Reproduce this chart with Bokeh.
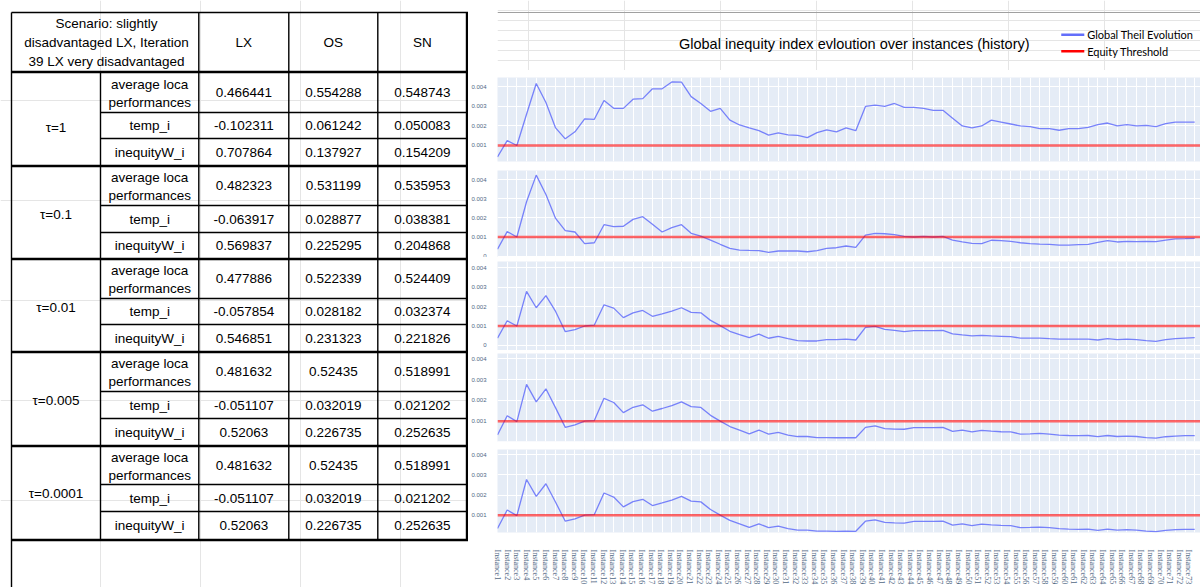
import math
from bokeh.plotting import figure
from bokeh.layouts import row, column
from bokeh.models import (Range1d, FixedTicker, Span, Grid, CustomJSTickFormatter)
from bokeh.core.properties import value
from bokeh.embed import file_html
from bokeh.resources import INLINE

# ---------------- data ----------------
header_lines = ["Scenario: slightly", "disadvantaged LX, Iteration", "39 LX very disadvantaged"]
columns = ["LX", "OS", "SN"]
tau_labels = ["τ=1", "τ=0.1", "τ=0.01", "τ=0.005", "τ=0.0001"]
row_names = ["temp_i", "inequityW_i"]
avg_row_name = ["average loca", "performances"]

avg_local_perf = [
    [0.466441, 0.554288, 0.548743],
    [0.482323, 0.531199, 0.535953],
    [0.477886, 0.522339, 0.524409],
    [0.481632, 0.52435, 0.518991],
    [0.481632, 0.52435, 0.518991],
]
temp_i = [
    [-0.102311, 0.061242, 0.050083],
    [-0.063917, 0.028877, 0.038381],
    [-0.057854, 0.028182, 0.032374],
    [-0.051107, 0.032019, 0.021202],
    [-0.051107, 0.032019, 0.021202],
]
inequityW_i = [
    [0.707864, 0.137927, 0.154209],
    [0.569837, 0.225295, 0.204868],
    [0.546851, 0.231323, 0.221826],
    [0.52063, 0.226735, 0.252635],
    [0.52063, 0.226735, 0.252635],
]

instances = ["Instance%d" % i for i in range(1, 74)]
equity_threshold = 0.001
y_ticks = [0, 0.001, 0.002, 0.003, 0.004]

theil_tau_1 = [0.00041, 0.00125, 0.00100, 0.00260, 0.00417, 0.00320, 0.00190, 0.00134, 0.00170, 0.00236,
               0.00234, 0.00330, 0.00290, 0.00290, 0.00337, 0.00340, 0.00390, 0.00390, 0.00425, 0.00424,
               0.00350, 0.00315, 0.00275, 0.00290, 0.00230, 0.00205, 0.00190, 0.00176, 0.00153, 0.00164,
               0.00154, 0.00152, 0.00140, 0.00166, 0.00180, 0.00170, 0.00190, 0.00176, 0.00300, 0.00307,
               0.00300, 0.00315, 0.00295, 0.00295, 0.00290, 0.00280, 0.00280, 0.00240, 0.00200, 0.00190,
               0.00200, 0.00230, 0.00220, 0.00210, 0.00200, 0.00197, 0.00186, 0.00186, 0.00178, 0.00186,
               0.00186, 0.00193, 0.00207, 0.00215, 0.00200, 0.00207, 0.00200, 0.00203, 0.00197, 0.00212,
               0.00220, 0.00220, 0.00220]
theil_tau_0_1 = [0.00036, 0.00128, 0.00100, 0.00284, 0.00423, 0.00322, 0.00197, 0.00133, 0.00126, 0.00065,
                 0.00070, 0.00164, 0.00154, 0.00156, 0.00192, 0.00206, 0.00166, 0.00126, 0.00149, 0.00164,
                 0.00119, 0.00105, 0.00084, 0.00062, 0.00041, 0.00032, 0.00030, 0.00029, 0.00020, 0.00027,
                 0.00027, 0.00027, 0.00023, 0.00029, 0.00041, 0.00044, 0.00053, 0.00046, 0.00110, 0.00119,
                 0.00117, 0.00112, 0.00103, 0.00100, 0.00103, 0.00100, 0.00103, 0.00084, 0.00074, 0.00067,
                 0.00065, 0.00083, 0.00081, 0.00077, 0.00070, 0.00065, 0.00063, 0.00062, 0.00058, 0.00058,
                 0.00060, 0.00062, 0.00072, 0.00081, 0.00074, 0.00077, 0.00076, 0.00077, 0.00076, 0.00084,
                 0.00090, 0.00091, 0.00093]
theil_tau_0_01 = [0.00038, 0.00127, 0.00100, 0.00278, 0.00194, 0.00256, 0.00175, 0.00071, 0.00081, 0.00100,
                  0.00105, 0.00209, 0.00192, 0.00143, 0.00168, 0.00180, 0.00150, 0.00162, 0.00177, 0.00194,
                  0.00170, 0.00168, 0.00129, 0.00102, 0.00073, 0.00056, 0.00040, 0.00058, 0.00037, 0.00047,
                  0.00035, 0.00025, 0.00023, 0.00023, 0.00030, 0.00030, 0.00033, 0.00028, 0.00093, 0.00098,
                  0.00083, 0.00078, 0.00071, 0.00076, 0.00076, 0.00076, 0.00078, 0.00060, 0.00054, 0.00049,
                  0.00052, 0.00049, 0.00047, 0.00045, 0.00038, 0.00038, 0.00038, 0.00035, 0.00033, 0.00033,
                  0.00033, 0.00033, 0.00028, 0.00035, 0.00030, 0.00033, 0.00030, 0.00025, 0.00021, 0.00030,
                  0.00035, 0.00038, 0.00040]
theil_tau_0_005 = [0.00034, 0.00126, 0.00098, 0.00277, 0.00193, 0.00256, 0.00164, 0.00070, 0.00082, 0.00100,
                   0.00103, 0.00210, 0.00190, 0.00141, 0.00167, 0.00179, 0.00148, 0.00161, 0.00175, 0.00193,
                   0.00170, 0.00166, 0.00128, 0.00100, 0.00074, 0.00057, 0.00039, 0.00057, 0.00038, 0.00046,
                   0.00033, 0.00026, 0.00026, 0.00021, 0.00021, 0.00020, 0.00021, 0.00020, 0.00070, 0.00077,
                   0.00064, 0.00062, 0.00061, 0.00069, 0.00069, 0.00069, 0.00070, 0.00051, 0.00057, 0.00048,
                   0.00056, 0.00052, 0.00049, 0.00048, 0.00038, 0.00039, 0.00041, 0.00038, 0.00033, 0.00031,
                   0.00030, 0.00031, 0.00025, 0.00031, 0.00026, 0.00028, 0.00026, 0.00021, 0.00018, 0.00025,
                   0.00028, 0.00030, 0.00030]
theil_tau_0_0001 = [0.00034, 0.00126, 0.00098, 0.00277, 0.00193, 0.00256, 0.00164, 0.00070, 0.00082, 0.00100,
                    0.00103, 0.00210, 0.00190, 0.00141, 0.00167, 0.00179, 0.00148, 0.00161, 0.00175, 0.00193,
                    0.00170, 0.00166, 0.00128, 0.00100, 0.00074, 0.00057, 0.00039, 0.00057, 0.00038, 0.00046,
                    0.00033, 0.00026, 0.00026, 0.00021, 0.00021, 0.00020, 0.00021, 0.00020, 0.00070, 0.00077,
                    0.00064, 0.00062, 0.00061, 0.00069, 0.00069, 0.00069, 0.00070, 0.00051, 0.00057, 0.00048,
                    0.00056, 0.00052, 0.00049, 0.00048, 0.00038, 0.00039, 0.00041, 0.00038, 0.00033, 0.00031,
                    0.00030, 0.00031, 0.00025, 0.00031, 0.00026, 0.00028, 0.00026, 0.00021, 0.00018, 0.00025,
                    0.00028, 0.00030, 0.00030]

theil_series = [theil_tau_1, theil_tau_0_1, theil_tau_0_01, theil_tau_0_005, theil_tau_0_0001]
chart_title = "Global inequity index evloution over instances (history)"
legend_labels = ["Global Theil Evolution", "Equity Threshold"]

# ---------------- layout constants (page pixels) ----------------
FONT = "Liberation Sans"
TXT = "13.5px"
X_EDGES = [11, 100, 198.3, 288.3, 377.3, 466.5]
TOP_Y = 12
BLOCK_EDGES = [71.5, 165.5, 258.5, 351.5, 445.5, 539.5]
INNER = [[112, 138], [205, 232], [298, 324], [391, 418], [484, 511]]
TAU_Y = [127, 214, 307, 400, 493]
LEFT_W = 468
RIGHT_W = 732
PAGE_H = 587
LINE_BLUE = "#636EFA"

# ---------------- left table ----------------
tbl = figure(width=LEFT_W, height=PAGE_H, x_range=Range1d(0, LEFT_W), y_range=Range1d(PAGE_H, 0),
             x_axis_location=None, y_axis_location=None, toolbar_location=None,
             min_border=0, outline_line_color=None, output_backend="svg")

sx0, sy0, sx1, sy1 = [], [], [], []
sx0 += [X_EDGES[0]]; sy0 += [TOP_Y]; sx1 += [LEFT_W]; sy1 += [TOP_Y]
sx0 += [X_EDGES[0]]; sy0 += [TOP_Y]; sx1 += [X_EDGES[0]]; sy1 += [PAGE_H]
sx0 += [X_EDGES[1]]; sy0 += [BLOCK_EDGES[0]]; sx1 += [X_EDGES[1]]; sy1 += [BLOCK_EDGES[-1]]
for xe in X_EDGES[2:5]:
    sx0 += [xe]; sy0 += [TOP_Y]; sx1 += [xe]; sy1 += [BLOCK_EDGES[-1]]
for pair in INNER:
    for yy in pair:
        sx0 += [X_EDGES[1]]; sy0 += [yy]; sx1 += [LEFT_W]; sy1 += [yy]
tbl.segment(sx0, sy0, sx1, sy1, line_color="black", line_width=1.4)

tx0, ty0, tx1, ty1 = [], [], [], []
for yy in BLOCK_EDGES:
    tx0 += [X_EDGES[0]]; ty0 += [yy]; tx1 += [LEFT_W]; ty1 += [yy]
tx0 += [X_EDGES[5]]; ty0 += [TOP_Y]; tx1 += [X_EDGES[5]]; ty1 += [BLOCK_EDGES[-1]]
tbl.segment(tx0, ty0, tx1, ty1, line_color="black", line_width=2.4)

tx, ty, tt = [], [], []
for k, line in enumerate(header_lines):
    tx.append(106); ty.append(23 + 19 * k); tt.append(line)
col_centers = [(X_EDGES[i] + X_EDGES[i + 1]) / 2 for i in range(2, 5)]
for c, name in zip(col_centers, columns):
    tx.append(c); ty.append(42); tt.append(name)
name_x = (X_EDGES[1] + X_EDGES[2]) / 2
tau_x = (X_EDGES[0] + X_EDGES[1]) / 2
for b in range(5):
    top, bot = BLOCK_EDGES[b], BLOCK_EDGES[b + 1]
    l1, l2 = INNER[b]
    cy = [(top + l1) / 2, (l1 + l2) / 2, (l2 + bot) / 2]
    tx.append(tau_x); ty.append(TAU_Y[b]); tt.append(tau_labels[b])
    tx.append(name_x); ty.append(cy[0] - 8); tt.append(avg_row_name[0])
    tx.append(name_x); ty.append(cy[0] + 10); tt.append(avg_row_name[1])
    tx.append(name_x); ty.append(cy[1]); tt.append(row_names[0])
    tx.append(name_x); ty.append(cy[2]); tt.append(row_names[1])
    for j, c in enumerate(col_centers):
        tx.append(c); ty.append(cy[0]); tt.append(str(avg_local_perf[b][j]))
        tx.append(c); ty.append(cy[1]); tt.append(str(temp_i[b][j]))
        tx.append(c); ty.append(cy[2]); tt.append(str(inequityW_i[b][j]))
tbl.text(tx, ty, text=tt, text_align="center", text_baseline="middle",
         text_font=value(FONT), text_font_size=TXT, text_color="black")

# ---------------- header (title + legend) ----------------
HDR_H = 70
hdr = figure(width=RIGHT_W, height=HDR_H, x_range=Range1d(LEFT_W, LEFT_W + RIGHT_W),
             y_range=Range1d(HDR_H, 0),
             x_axis_location=None, y_axis_location=None, toolbar_location=None,
             min_border=0, outline_line_color=None, output_backend="svg")
hdr.segment([LEFT_W], [TOP_Y], [LEFT_W + RIGHT_W], [TOP_Y], line_color="#a0a0a0", line_width=1)
hdr.text([839.5], [43], text=[chart_title], text_align="center", text_baseline="middle",
         text_font=value(FONT), text_font_size="14.5px", text_color="black")
LEG_Y = [34.3, 50.7]
hdr.segment([1055, 1055], LEG_Y, [1079, 1079], LEG_Y, line_color=[LINE_BLUE, "red"], line_width=2.5)
hdr.text([1082, 1082], LEG_Y, text=legend_labels, text_align="left", text_baseline="middle",
         text_font=value("Lato"), text_font_size="11px", text_color="black")

# ---------------- charts ----------------
x_idx = list(range(1, len(instances) + 1))
x_shared = Range1d(1, 73.6)
y_ranges = [(0.00018, 0.00448), (-0.00007, 0.00447), (-0.00026, 0.00432), (0.00002, 0.00426), (0.00014, 0.00426)]
chart_h = [91, 90, 90, 91, 91]
chart_top = [4, 3, 1, 0, 2]
chart_bot = [3, 0, 0, 3, 6]


def make_chart(vals, yr, h, bt, bb):
    p = figure(width=RIGHT_W, height=h, x_range=x_shared, y_range=Range1d(*yr),
               x_axis_location=None, toolbar_location=None, output_backend="svg",
               min_border_left=26, min_border_right=0, min_border_top=bt, min_border_bottom=bb,
               background_fill_color="#E5ECF6", border_fill_color="white", outline_line_color=None)
    p.yaxis.ticker = FixedTicker(ticks=y_ticks)
    p.yaxis.formatter = CustomJSTickFormatter(code="return tick == 0 ? '0' : tick.toFixed(3);")
    p.yaxis.axis_line_color = None
    p.yaxis.major_tick_line_color = None
    p.yaxis.minor_tick_line_color = None
    p.yaxis.major_label_text_font = FONT
    p.yaxis.major_label_text_font_size = "6px"
    p.yaxis.major_label_text_color = "#506784"
    p.yaxis.major_label_standoff = 5
    p.ygrid.grid_line_color = "white"
    p.ygrid.grid_line_width = 1
    p.add_layout(Grid(dimension=0, ticker=FixedTicker(ticks=x_idx),
                      grid_line_color="white", grid_line_width=1))
    p.line(x_idx, vals, line_color=LINE_BLUE, line_width=1.3, line_alpha=0.85)
    p.add_layout(Span(location=equity_threshold, dimension="width", line_color="red",
                      line_alpha=0.6, line_width=2.5))
    return p


def separator():
    s = figure(width=RIGHT_W, height=3, x_axis_location=None, y_axis_location=None,
               toolbar_location=None, min_border=0, background_fill_color="black",
               border_fill_color="black", outline_line_color=None, output_backend="svg",
               x_range=Range1d(0, 1), y_range=Range1d(0, 1))
    return s


charts = [make_chart(theil_series[i], y_ranges[i], chart_h[i], chart_top[i], chart_bot[i])
          for i in range(5)]

# ---------------- bottom axis (instance labels) ----------------
BOT_H = PAGE_H - (HDR_H + sum(chart_h) + 6 * 3)
bot = figure(width=RIGHT_W, height=BOT_H, x_range=Range1d(1, 1 + 712 / 9.725), y_range=Range1d(0, 1),
             y_axis_location=None, toolbar_location=None, output_backend="svg",
             min_border_left=20, min_border_right=0, min_border_top=0, min_border_bottom=BOT_H - 2,
             outline_line_color=None)
bot.xgrid.visible = False
bot.ygrid.visible = False
bot.xaxis.ticker = FixedTicker(ticks=x_idx)
bot.xaxis.major_label_overrides = {i: name for i, name in zip(x_idx, instances)}
bot.xaxis.major_label_orientation = -math.pi / 2
bot.xaxis.axis_line_color = None
bot.xaxis.major_tick_line_color = None
bot.xaxis.minor_tick_line_color = None
bot.xaxis.major_label_text_font = "Liberation Serif"
bot.xaxis.major_label_text_font_size = "8px"
bot.xaxis.major_label_text_color = "#506784"
bot.xaxis.major_label_standoff = 2

right = column(hdr, separator(), charts[0], separator(), charts[1], separator(), charts[2],
               separator(), charts[3], separator(), charts[4], separator(), bot)
layout = row(tbl, right)

open("out.html", "w").write(file_html(layout, INLINE))
